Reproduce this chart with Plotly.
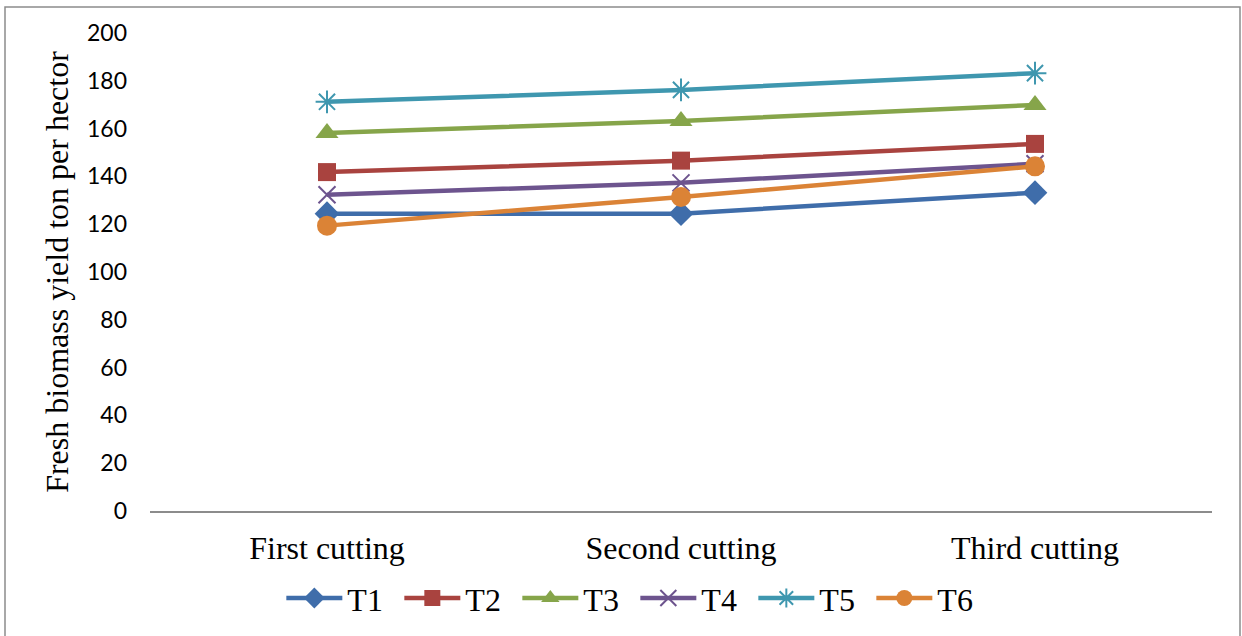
import plotly.graph_objects as go

# Cutting stages on the category axis
cuttings = ["First cutting", "Second cutting", "Third cutting"]

# Fresh biomass yield (ton per hectare) for each treatment
t1 = [124.4, 124.4, 133.2]
t2 = [141.8, 146.6, 153.6]
t3 = [158.2, 163.2, 169.9]
t4 = [132.3, 137.3, 145.3]
t5 = [171.2, 176.2, 183.2]
t6 = [119.4, 131.4, 144.2]

series_names = ["T1", "T2", "T3", "T4", "T5", "T6"]
series_values = [t1, t2, t3, t4, t5, t6]

y_ticks = [0, 20, 40, 60, 80, 100, 120, 140, 160, 180, 200]

styles = {
    "T1": dict(color="#3F6DAA", symbol="diamond", size=19, open_line=False),
    "T2": dict(color="#A9433F", symbol="square", size=18, open_line=False),
    "T3": dict(color="#86A54A", symbol="triangle-up", size=20, open_line=False),
    "T4": dict(color="#6D548E", symbol="x-thin-open", size=17, open_line=True),
    "T5": dict(color="#3F97AF", symbol="asterisk-open", size=19, open_line=True),
    "T6": dict(color="#DB8336", symbol="circle", size=20, open_line=False),
}

fig = go.Figure()
for name, vals in zip(series_names, series_values):
    st = styles[name]
    marker = dict(symbol=st["symbol"], size=st["size"], color=st["color"])
    if st["open_line"]:
        marker["line"] = dict(color=st["color"], width=2)
    else:
        marker["line"] = dict(width=0)
    fig.add_trace(go.Scatter(
        x=cuttings, y=vals, name=name, mode="lines+markers",
        line=dict(color=st["color"], width=4.5),
        marker=marker,
    ))

serif = "Liberation Serif, Times New Roman, serif"

fig.update_layout(
    width=1242, height=636,
    margin=dict(l=150, r=30, t=33, b=124),
    plot_bgcolor="white", paper_bgcolor="white",
    showlegend=True,
    legend=dict(
        orientation="h", x=0.457, xanchor="center", y=-0.18, yanchor="middle",
        font=dict(family=serif, size=32, color="black"),
        itemwidth=56, entrywidth=47, entrywidthmode="pixels",
        tracegroupgap=0, traceorder="normal",
    ),
    xaxis=dict(
        type="category", range=[-0.5, 2.5],
        showgrid=False, zeroline=False,
        showline=True, linecolor="#8C8C8C", linewidth=2,
        ticks="", ticklabelstandoff=8,
        tickfont=dict(family=serif, size=32, color="black"),
    ),
    yaxis=dict(
        range=[0, 200], tickvals=y_ticks,
        showgrid=False, zeroline=False, showline=False,
        ticks="", ticklabelstandoff=22,
        tickfont=dict(family="Lato, Open Sans, sans-serif", size=23, color="black"),
        title=dict(text="Fresh biomass yield ton per hector",
                   font=dict(family=serif, size=32, color="black"),
                   standoff=8),
    ),
    shapes=[dict(
        type="rect", xref="paper", yref="paper",
        x0=(5 - 150) / 1062, x1=(1240 - 150) / 1062,
        y0=(512 - 645) / 479, y1=(512 - 7) / 479,
        line=dict(color="#8C8C8C", width=1.5), fillcolor="rgba(0,0,0,0)",
        layer="below",
    )],
)

fig.write_html("out.html")
